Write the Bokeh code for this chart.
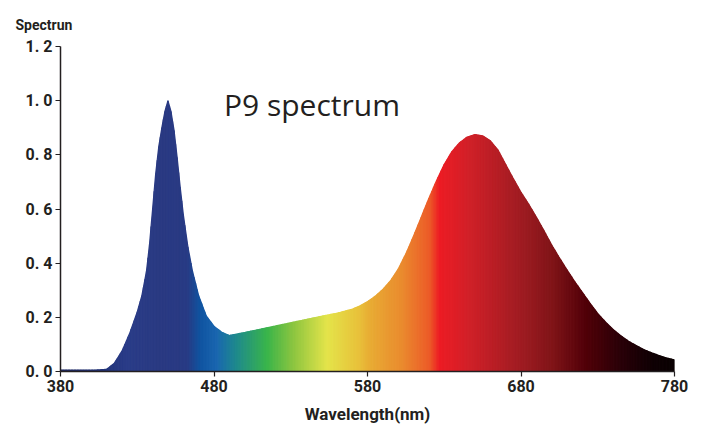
from bokeh.plotting import figure
from bokeh.models import FixedTicker, CustomJSTickFormatter, Label, ColumnDataSource
from bokeh.embed import file_html
from bokeh.resources import INLINE
import numpy as np

# ---- data ----
wavelength = [380, 390, 400, 405, 410, 415, 420, 425, 430, 433, 436, 438, 440, 442, 444, 446, 448, 450,
              452, 454, 456, 458, 460, 463, 466, 470, 475, 480, 485, 490, 500, 510, 520, 530, 540,
              550, 560, 570, 575, 580, 585, 590, 595, 600, 605, 610, 615, 620, 625, 630, 635, 640,
              645, 650, 655, 660, 665, 670, 675, 680, 685, 690, 695, 700, 705, 710, 715, 720, 725,
              730, 735, 740, 745, 750, 755, 760, 765, 770, 775, 780]
intensity = [0.005, 0.005, 0.005, 0.006, 0.008, 0.03, 0.075, 0.14, 0.22, 0.28, 0.37, 0.47, 0.60, 0.73, 0.83, 0.90, 0.96, 1.00,
             0.96, 0.89, 0.79, 0.68, 0.58, 0.46, 0.37, 0.28, 0.205, 0.167, 0.145, 0.133, 0.144, 0.156, 0.168, 0.180, 0.192,
             0.204, 0.215, 0.230, 0.242, 0.258, 0.278, 0.303, 0.335, 0.378, 0.435, 0.50, 0.57, 0.64, 0.705, 0.765, 0.812, 0.845,
             0.866, 0.875, 0.870, 0.852, 0.818, 0.765, 0.712, 0.662, 0.618, 0.570, 0.520, 0.467, 0.420, 0.375, 0.332, 0.292, 0.252,
             0.214, 0.183, 0.155, 0.132, 0.112, 0.096, 0.081, 0.069, 0.059, 0.050, 0.043]

color_stop_nm = [380, 410, 423, 445, 463, 471, 482, 495, 515, 532, 554, 575, 582, 603, 621, 627,
                 647, 680, 701, 723, 745, 766, 780]
color_stop_hex = ["#1c2660", "#22347a", "#2a3c88", "#2a3a82", "#283a84", "#0f53a0", "#1a66b0",
                  "#1e8a8c", "#3ab54a", "#8cc540", "#e4e44a", "#e8c03a", "#e8ac34", "#ea8a2e",
                  "#ec5a28", "#ed1c24", "#d02028", "#a01c22", "#801418", "#500008", "#2a0008",
                  "#0f0004", "#0a0002"]

x_ticks = [380, 480, 580, 680, 780]
y_ticks = [0.0, 0.2, 0.4, 0.6, 0.8, 1.0, 1.2]
chart_label = "P9 spectrum"
y_title = "Spectrun"
x_title = "Wavelength(nm)"

# ---- helpers ----
def hex_to_rgb(h):
    h = h.lstrip("#")
    return np.array([int(h[i:i + 2], 16) for i in (0, 2, 4)], dtype=float)

stop_rgb = np.array([hex_to_rgb(c) for c in color_stop_hex])

def color_at(nm):
    r = np.interp(nm, color_stop_nm, stop_rgb[:, 0])
    g = np.interp(nm, color_stop_nm, stop_rgb[:, 1])
    b = np.interp(nm, color_stop_nm, stop_rgb[:, 2])
    return "#%02x%02x%02x" % (int(round(r)), int(round(g)), int(round(b)))

# subdivide each straight segment of the outline into thin strips for colouring
xs, ys, cols = [], [], []
for i in range(len(wavelength) - 1):
    x0, x1 = wavelength[i], wavelength[i + 1]
    y0, y1 = intensity[i], intensity[i + 1]
    n = max(1, int(round((x1 - x0) / 1.0)))
    for k in range(n):
        a = x0 + (x1 - x0) * k / n
        b = x0 + (x1 - x0) * (k + 1) / n
        ya = y0 + (y1 - y0) * k / n
        yb = y0 + (y1 - y0) * (k + 1) / n
        xs.append([a, b, b, a])
        ys.append([0, 0, yb, ya])
        cols.append(color_at((a + b) / 2))

src = ColumnDataSource(dict(xs=xs, ys=ys, c=cols))

p = figure(width=690, height=428, output_backend="svg", toolbar_location=None,
           x_range=(380, 780), y_range=(0, 1.2), title=y_title)
p.min_border_left = 60
p.min_border_right = 16
p.min_border_top = 45
p.min_border_bottom = 57
p.outline_line_color = None
p.grid.visible = False
p.background_fill_color = "white"
p.border_fill_color = "white"

p.title.align = "left"
p.title.offset = -45
p.title.standoff = 28
p.title.text_font = "Roboto"
p.title.text_font_style = "bold"
p.title.text_font_size = "14px"
p.title.text_color = "#231f20"

p.patches("xs", "ys", source=src, fill_color="c", line_color="c", line_width=1.2)

# axes
for ax in (p.xaxis, p.yaxis):
    ax.axis_line_color = "#231f20"
    ax.axis_line_width = 1.5
    ax.major_tick_line_color = "#231f20"
    ax.major_tick_line_width = 1.2
    ax.major_tick_out = 5
    ax.major_tick_in = 0
    ax.minor_tick_line_color = None
    ax.major_label_text_font = "Roboto"
    ax.major_label_text_font_style = "bold"
    ax.major_label_text_font_size = "16px"
    ax.major_label_text_color = "#231f20"

p.xaxis.ticker = FixedTicker(ticks=x_ticks)
p.yaxis.ticker = FixedTicker(ticks=y_ticks)
p.yaxis.formatter = CustomJSTickFormatter(code="return tick.toFixed(1).replace('.', '. ');")
p.xaxis.major_label_standoff = 3
p.yaxis.major_label_standoff = 3

p.xaxis.axis_label = x_title
p.xaxis.axis_label_text_font = "Roboto"
p.xaxis.axis_label_text_font_style = "bold"
p.xaxis.axis_label_text_font_size = "17px"
p.xaxis.axis_label_text_color = "#231f20"
p.xaxis.axis_label_standoff = 9

p.add_layout(Label(x=486.5, y=0.985, text=chart_label, text_font="Open Sans",
                   text_font_size="30px", text_color="#231f20", text_baseline="alphabetic"))

open("out.html", "w").write(file_html(p, INLINE))
